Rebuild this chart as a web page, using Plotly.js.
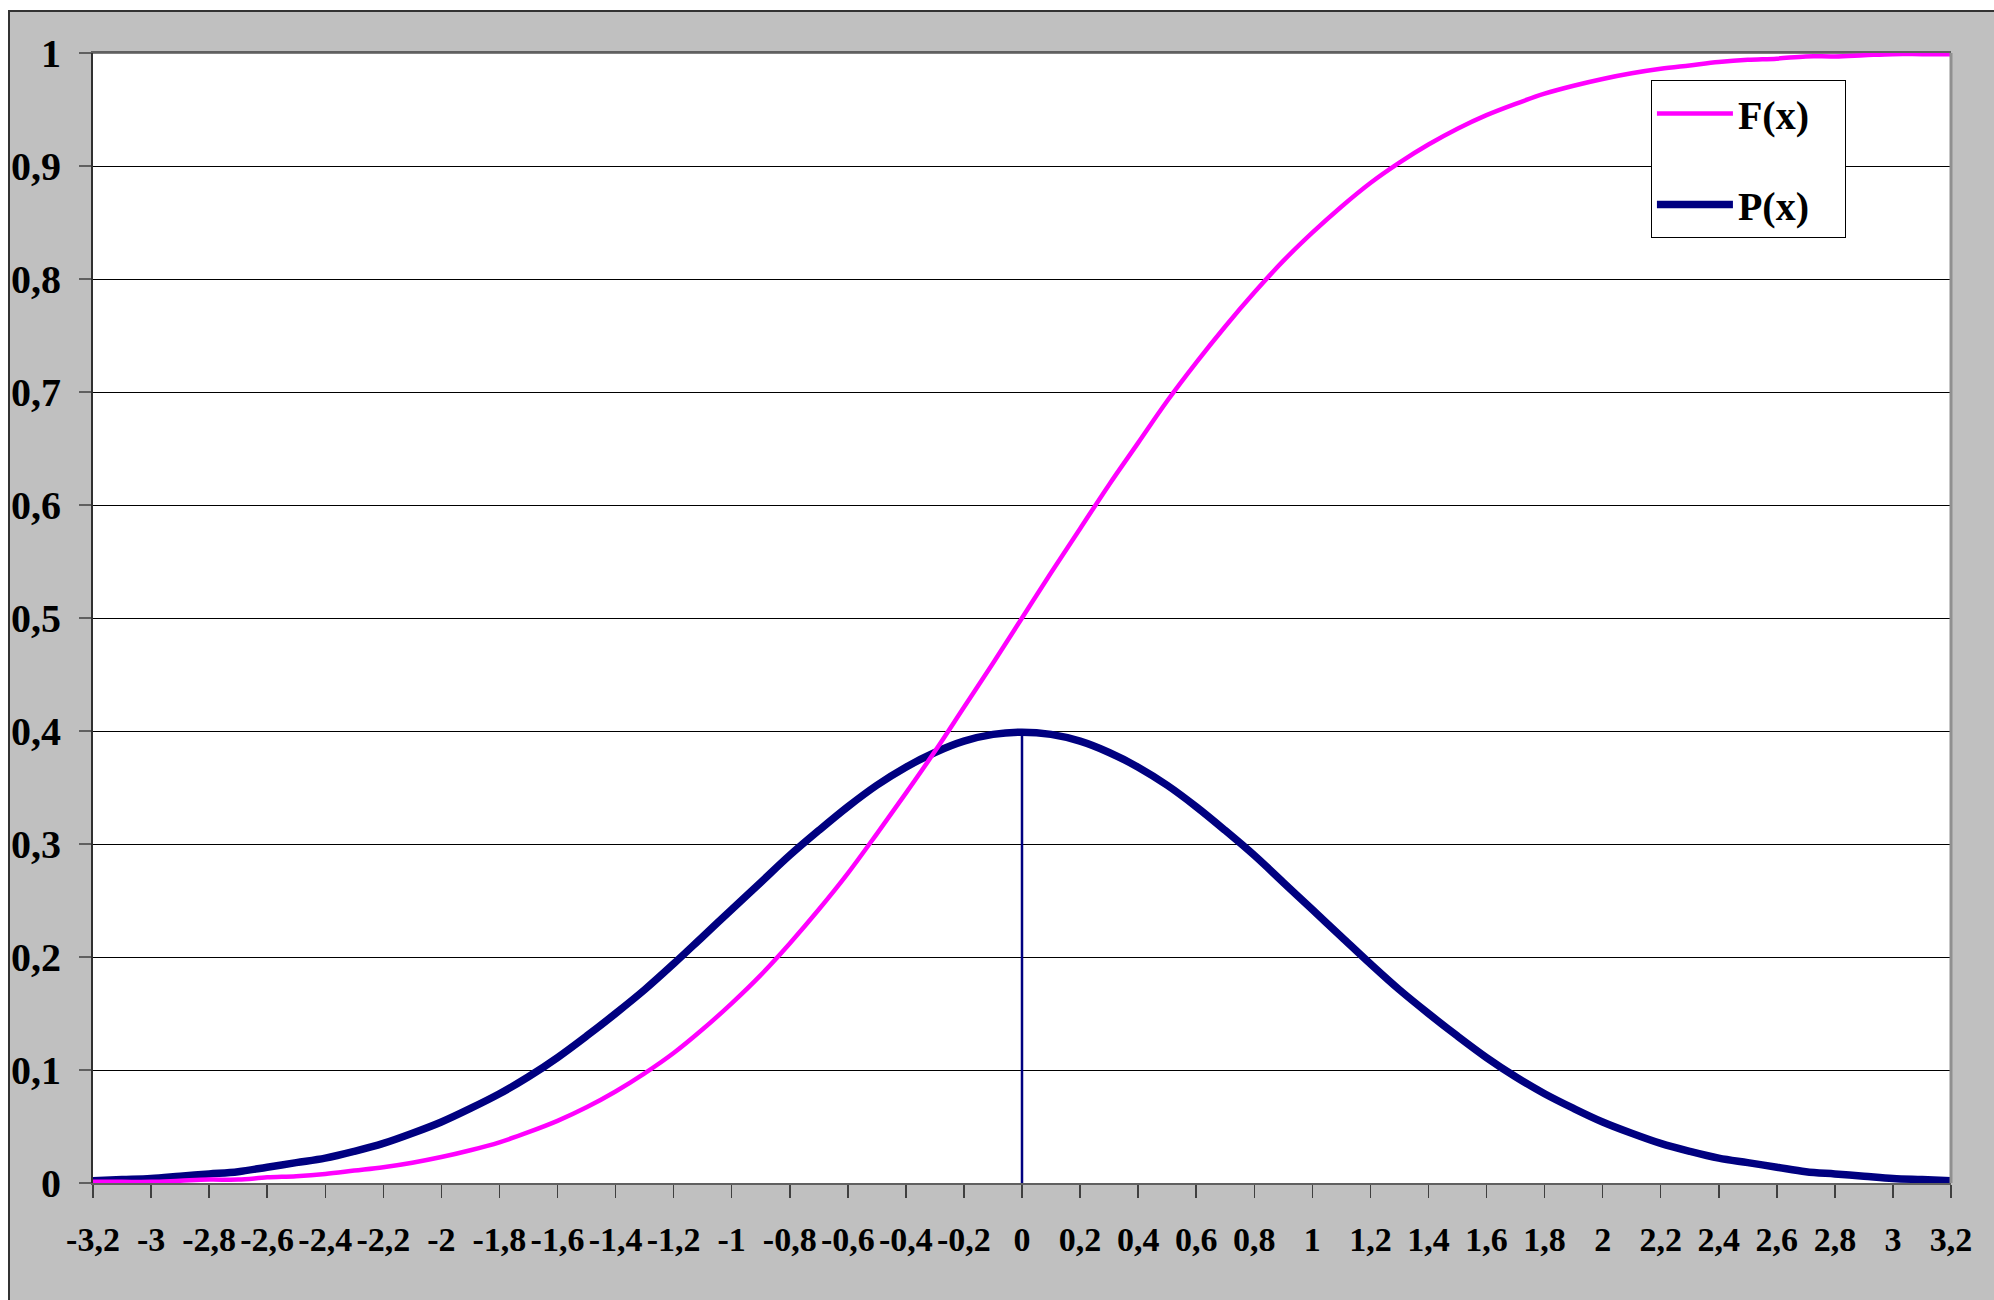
<!DOCTYPE html>
<html>
<head>
<meta charset="utf-8">
<script src="https://cdn.plot.ly/plotly-3.0.1.min.js"></script>
<style>
  html, body { margin: 0; padding: 0; background: #ffffff; width: 1994px; height: 1300px; overflow: hidden; }
  #frame { position: absolute; left: 8px; top: 10px; width: 1986px; height: 1290px;
           border-top: 2px solid #333333; border-left: 2px solid #333333; box-sizing: border-box; background: #c0c0c0; }
  #chart { position: absolute; left: 0; top: 0; }
</style>
</head>
<body>
<div id="frame"><div id="chart"></div></div>
<script>
// x positions of the plotted points
const xVals = [-3.2,-3.1,-3.0,-2.9,-2.8,-2.7,-2.6,-2.5,-2.4,-2.3,-2.2,-2.1,-2.0,-1.9,-1.8,-1.7,-1.6,-1.5,-1.4,-1.3,-1.2,-1.1,-1.0,-0.9,-0.8,-0.7,-0.6,-0.5,-0.4,-0.3,-0.2,-0.1,
  0.0,0.1,0.2,0.3,0.4,0.5,0.6,0.7,0.8,0.9,1.0,1.1,1.2,1.3,1.4,1.5,1.6,1.7,1.8,1.9,2.0,2.1,2.2,2.3,2.4,2.5,2.6,2.7,2.8,2.9,3.0,3.1,3.2];

// F(x) values
const fVals = [0.001,0.001,0.001,0.002,0.003,0.003,0.005,0.006,0.008,0.011,0.014,0.018,0.023,0.029,0.036,0.045,0.055,0.067,0.081,0.097,0.115,0.136,0.159,0.184,0.212,0.242,0.274,0.309,0.345,0.382,0.421,0.460,
  0.500,0.540,0.579,0.618,0.655,0.692,0.726,0.758,0.788,0.816,0.841,0.864,0.885,0.903,0.919,0.933,0.945,0.955,0.964,0.971,0.977,0.982,0.986,0.989,0.992,0.994,0.995,0.997,0.997,0.998,0.999,0.999,0.999];

// P(x) values
const pVals = [0.002,0.003,0.004,0.006,0.008,0.010,0.014,0.018,0.022,0.028,0.035,0.044,0.054,0.066,0.079,0.094,0.111,0.130,0.150,0.171,0.194,0.218,0.242,0.266,0.290,0.312,0.333,0.352,0.368,0.381,0.391,0.397,
  0.399,0.397,0.391,0.381,0.368,0.352,0.333,0.312,0.290,0.266,0.242,0.218,0.194,0.171,0.150,0.130,0.111,0.094,0.079,0.066,0.054,0.044,0.035,0.028,0.022,0.018,0.014,0.010,0.008,0.006,0.004,0.003,0.002];

// vertical marker at the peak
const peakX = [0, 0];
const peakY = [0, 0.399];

// series names
const seriesNames = ['F(x)', 'P(x)'];

// tick labels
const xTickVals = [-3.2,-3.0,-2.8,-2.6,-2.4,-2.2,-2.0,-1.8,-1.6,-1.4,-1.2,-1.0,-0.8,-0.6,-0.4,-0.2,0,0.2,0.4,0.6,0.8,1.0,1.2,1.4,1.6,1.8,2.0,2.2,2.4,2.6,2.8,3.0,3.2];
const xTickText = ['-3,2','-3','-2,8','-2,6','-2,4','-2,2','-2','-1,8','-1,6','-1,4','-1,2','-1','-0,8','-0,6','-0,4','-0,2','0','0,2','0,4','0,6','0,8','1','1,2','1,4','1,6','1,8','2','2,2','2,4','2,6','2,8','3','3,2'];
const yTickVals = [0,0.1,0.2,0.3,0.4,0.5,0.6,0.7,0.8,0.9,1];
const yTickText = ['0','0,1','0,2','0,3','0,4','0,5','0,6','0,7','0,8','0,9','1'];

const serif = '"Times New Roman", "Liberation Serif", serif';
const legendPad = '\u00a0\u00a0\u00a0';

const traces = [
  { x: peakX, y: peakY, mode: 'lines', line: { color: '#000080', width: 2.5 }, showlegend: false, hoverinfo: 'skip' },
  { x: xVals, y: pVals, name: seriesNames[1] + legendPad, legendgroup: 'p', legendrank: 2, mode: 'lines',
    line: { color: '#000080', width: 7.5, shape: 'spline', smoothing: 1 } },
  { x: xVals, y: fVals, name: seriesNames[0] + legendPad, legendgroup: 'f', legendrank: 1, mode: 'lines',
    line: { color: '#FF00FF', width: 4.5, shape: 'spline', smoothing: 1 } }
];

const layout = {
  width: 1984, height: 1288,
  margin: { l: 83, r: 43, t: 41, b: 117, pad: 0 },
  paper_bgcolor: '#c0c0c0',
  plot_bgcolor: '#ffffff',
  showlegend: true,
  legend: {
    x: 0.8385, y: 0.976, xanchor: 'left', yanchor: 'top',
    bgcolor: '#ffffff', bordercolor: '#000000', borderwidth: 1,
    font: { family: serif, size: 40, color: '#000000', weight: 'bold' },
    traceorder: 'grouped', tracegroupgap: 36, itemwidth: 76
  },
  xaxis: {
    range: [-3.2, 3.2], tickmode: 'array', tickvals: xTickVals, ticktext: xTickText,
    tickangle: 0, ticks: 'outside', ticklen: 13, tickwidth: 1.5, tickcolor: '#404040',
    tickfont: { family: serif, size: 34, color: '#000000', weight: 'bold' },
    ticklabelstandoff: 12,
    showgrid: false, zeroline: false,
    showline: true, linecolor: '#606060', linewidth: 2, mirror: true
  },
  yaxis: {
    range: [0, 1], tickmode: 'array', tickvals: yTickVals, ticktext: yTickText,
    ticks: 'outside', ticklen: 12, tickwidth: 1.5, tickcolor: '#606060',
    tickfont: { family: serif, size: 40, color: '#000000', weight: 'bold' },
    ticklabelstandoff: 10,
    showgrid: true, gridcolor: '#000000', gridwidth: 1, zeroline: false,
    showline: true, linecolor: '#303030', linewidth: 2
  },
  shapes: [
    { type: 'line', xref: 'paper', yref: 'paper', x0: 1, x1: 1, y0: 0, y1: 1,
      line: { color: '#909090', width: 3 }, layer: 'above' },
    { type: 'line', xref: 'paper', yref: 'paper', x0: 0, x1: 1, y0: 1, y1: 1,
      line: { color: '#808080', width: 2 }, layer: 'below' }
  ]
};

Plotly.newPlot('chart', traces, layout, { displayModeBar: false, staticPlot: true });
</script>
</body>
</html>
